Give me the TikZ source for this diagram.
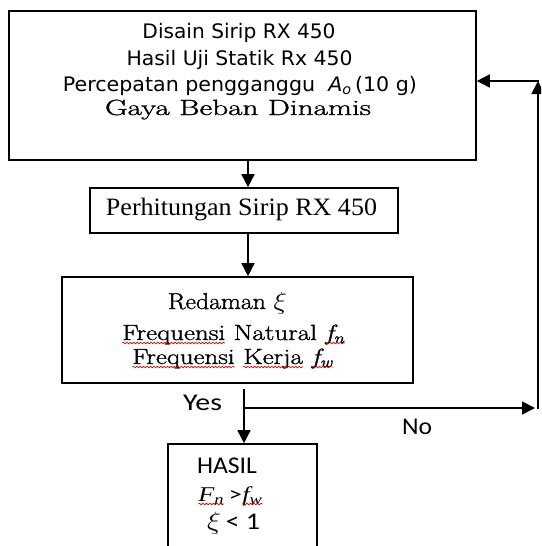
\documentclass[tikz,border=0pt]{standalone}
\usepackage{fontspec}
\usepackage{graphicx}
\usetikzlibrary{arrows.meta,decorations.pathmorphing}
\newfontfamily\dvs{DejaVu Sans}
\newfontfamily\libser{Liberation Serif}
\newfontfamily\carl{Carlito}
\newfontfamily\lmb[FakeBold=1.2]{Latin Modern Roman}
\newcommand\fitw[2]{\resizebox{#1pt}{\height}{#2}}
\tikzset{
  wavy/.style={draw=red!85!black,line width=0.6pt,decorate,
    decoration={snake,amplitude=0.8pt,segment length=2.8pt}},
  boxnode/.style={draw=black,line width=1.6pt,inner sep=0pt,minimum width=#1},
  txt/.style={anchor=base,inner sep=0pt,outer sep=0pt},
  arr/.style={line width=1.6pt,-{Triangle[width=13pt,length=13pt]}}
}
\newcommand\wv[1]{\tikz[baseline=(wvn.base)]{\node[inner sep=0pt,outer sep=0pt,anchor=base](wvn) at (0,0){#1};\draw[wavy] ([yshift=-3pt]wvn.base west) -- ([yshift=-3pt]wvn.base east);}}
\begin{document}
\begin{tikzpicture}[x=1pt,y=-1pt]
\useasboundingbox (0,0) rectangle (541,546);
\begin{scope}
\clip (0,0) rectangle (541,546);
% boxes
\node[boxnode=467pt,minimum height=149pt] (top) at (242.5,85.5) {};
\node[boxnode=308pt,minimum height=45pt] (perh) at (244,210.5) {};
\node[boxnode=351pt,minimum height=106pt] (red) at (237.5,330) {};
\node[boxnode=149pt,minimum height=136pt] (hasil) at (242.5,512) {};
% texts top box
\node[txt] (t1) at (239,38) {\fitw{193}{\dvs\fontsize{20}{23}\selectfont Disain Sirip RX 450}};
\node[txt] (t2) at (239.5,65) {\fitw{226}{\dvs\fontsize{20}{23}\selectfont Hasil Uji Statik Rx 450}};
\node[txt] (t3) at (240,91) {\fitw{354}{\dvs\fontsize{20}{23}\selectfont Percepatan pengganggu\ \ {\itshape A\textsubscript{o}}\,(10 g)}};
\node[txt] (t4) at (238,115) {\fitw{266}{\lmb\fontsize{22}{25}\selectfont Gaya Beban Dinamis}};
% second box
\node[txt] (p1) at (241.5,215) {\fitw{271}{\libser\fontsize{25}{28}\selectfont Perhitungan Sirip RX 450}};
% third box
\node[txt] (r1) at (227.5,309) {\fitw{119}{\lmb\fontsize{23}{26}\selectfont Redaman $\xi$}};
\node[txt] (r2) at (233.5,340) {\fitw{223}{\lmb\fontsize{22}{25}\selectfont \wv{Frequensi} Natural \wv{\itshape f\textsubscript{n}}}};
\node[txt] (r3) at (232.5,364) {\fitw{201}{\lmb\fontsize{22}{25}\selectfont \wv{Frequensi} \wv{Kerja}\ \wv{\itshape f\textsubscript{w}}}};
% hasil box
\node[txt] (h1) at (227,473) {\fitw{60}{\carl\fontsize{24}{27}\selectfont HASIL}};
\node[txt] (h2) at (230.5,501) {\fitw{65}{\fontsize{21}{24}\selectfont \wv{\libser\itshape F\textsubscript{n}}\,{\carl >}\wv{\libser\itshape f\textsubscript{w}}}};
\node[txt] (h3) at (233.5,529) {\fitw{53}{\fontsize{24}{27}\selectfont $\xi$\,{\carl < 1}}};
% labels
\node[txt] (yes) at (202.5,410) {\fitw{39}{\carl\fontsize{24}{27}\selectfont Yes}};
\node[txt] (no) at (417,434) {\fitw{30}{\carl\fontsize{24}{27}\selectfont No}};
% connectors
\coordinate (ax) at (248,0);
\coordinate (ys) at (244,389);
\coordinate (yj) at (244,408);
\coordinate (nr) at (535,408);
\coordinate (rb) at (538,408.8);
\coordinate (rt) at (538,81);
\draw[arr] (top.south -| ax) -- (perh.north -| ax);
\draw[arr] (perh.south -| ax) -- (red.north -| ax);
\draw[arr] (ys) -- (hasil.north -| ys);
\draw[arr] (yj) -- (nr);
\draw[arr] (rb) -- (rt);
\draw[arr] ([xshift=0.8pt]rt) -- (rt -| top.east);
\end{scope}
\end{tikzpicture}
\end{document}
